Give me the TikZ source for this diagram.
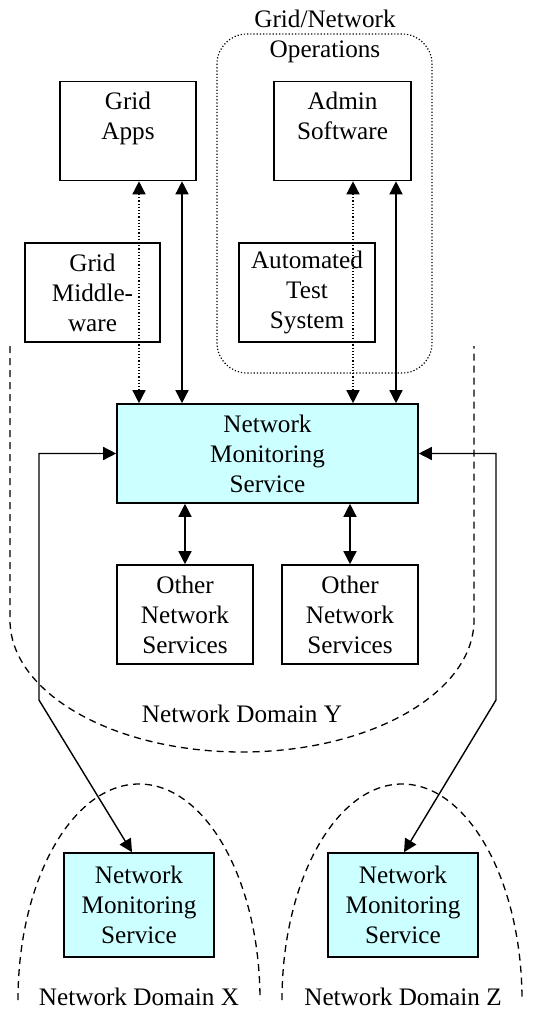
\documentclass[tikz,border=0pt]{standalone}
\usepackage{fontspec}
\setmainfont{Liberation Serif}
\usepackage{tikz}
\usetikzlibrary{arrows.meta,positioning,calc}
\usepackage{xcolor}
\definecolor{nmscyan}{HTML}{CCFFFF}

\tikzset{
  box/.style={draw, line width=1.6pt, minimum width=136pt, minimum height=99pt,
              inner sep=0pt, align=center},
  nmsbox/.style={box, fill=nmscyan},
  dbl/.style={line width=1.4pt, {Triangle[length=13pt,width=13pt]}-{Triangle[length=13pt,width=13pt]}},
  dotlink/.style={dbl, dash pattern=on 1.2pt off 2pt},
  domainline/.style={line width=1.3pt, dash pattern=on 7pt off 5pt},
  txt/.style={inner sep=0pt, align=center}
}

\begin{document}
\begin{tikzpicture}[x=1pt, y=-1pt, font=\fontsize{25.2}{30}\selectfont]
                    \useasboundingbox (0,0) rectangle (556,1011);
                    % Operations group (dotted)
                    \draw[line width=1.2pt, dash pattern=on 1.2pt off 2pt, rounded corners=30pt] (217,34) rectangle (432,373);
                    \node[txt, anchor=north] (opstitle) at (325,9.5) {Grid/Network\\Operations};
                    % Boxes of domain Y
                    \node[box] (apps) at (128,131) {Grid\\Apps\\~};
                    \node[box, minimum width=137pt] (admin) at (342.5,131) {Admin\\Software\\~};
                    \node[box, minimum width=135pt] (mid) at (92.5,292.5) {Grid\\Middle-\\ware};
                    \node[box] (ats) at (307,292.5) {Automated\\Test\\System};
                    \node[nmsbox, minimum width=301pt] (nms) at (267.5,453.5) {Network\\Monitoring\\Service};
                    \node[box] (other1) at (185,614.5) {Other\\Network\\Services};
                    \node[box] (other2) at (350,614.5) {Other\\Network\\Services};
                    % Remote monitoring services
                    \node[nmsbox, minimum width=150pt, minimum height=104pt] (nmsx) at (139,905) {Network\\Monitoring\\Service};
                    \node[nmsbox, minimum width=150pt, minimum height=104pt] (nmsz) at (403,905) {Network\\Monitoring\\Service};
                    % Domain borders (dashed)
                    \draw[domainline] (10,346) -- (10,620) .. controls (10,693) and (114,752) .. (242,752)
                                  .. controls (370,752) and (474,693) .. (474,620) -- (474,346);
                    \draw[domainline] (18,1000) .. controls (18,881) and (72,784) .. (139,784)
                                  .. controls (206,784) and (260,881) .. (260,1000);
                    \draw[domainline] (282,1000) .. controls (282,881) and (336,784) .. (402,784)
                                  .. controls (468,784) and (522,881) .. (522,1000);
                    \node[txt, anchor=base] (domy) at (242,722) {Network Domain Y};
                    \node[txt, anchor=base] (domx) at (139,1005) {Network Domain X};
                    \node[txt, anchor=base] (domz) at (403,1005) {Network Domain Z};
                    % Links to the monitoring service
                    \draw[dotlink] ([xshift=11pt]apps.south) -- ([xshift=11pt]apps.south |- nms.north);
                    \draw[dbl] ([xshift=54pt]apps.south) -- ([xshift=54pt]apps.south |- nms.north);
                    \draw[dotlink] ([xshift=10.5pt]admin.south) -- ([xshift=10.5pt]admin.south |- nms.north);
                    \draw[dbl] ([xshift=53.5pt]admin.south) -- ([xshift=53.5pt]admin.south |- nms.north);
                    \draw[dbl] (nms.south -| other1.north) -- (other1.north);
                    \draw[dbl] (nms.south -| other2.north) -- (other2.north);
                    % Links between domains
                    \coordinate (lbend) at (39,700);
                    \coordinate (rbend) at (496,700);
                    \draw[dbl] (nms.west) -| (lbend) -- ([xshift=-7pt]nmsx.north);
                    \draw[dbl] (nms.east) -| (rbend) -- ([xshift=1pt]nmsz.north);
                \end{tikzpicture}
\end{document}
